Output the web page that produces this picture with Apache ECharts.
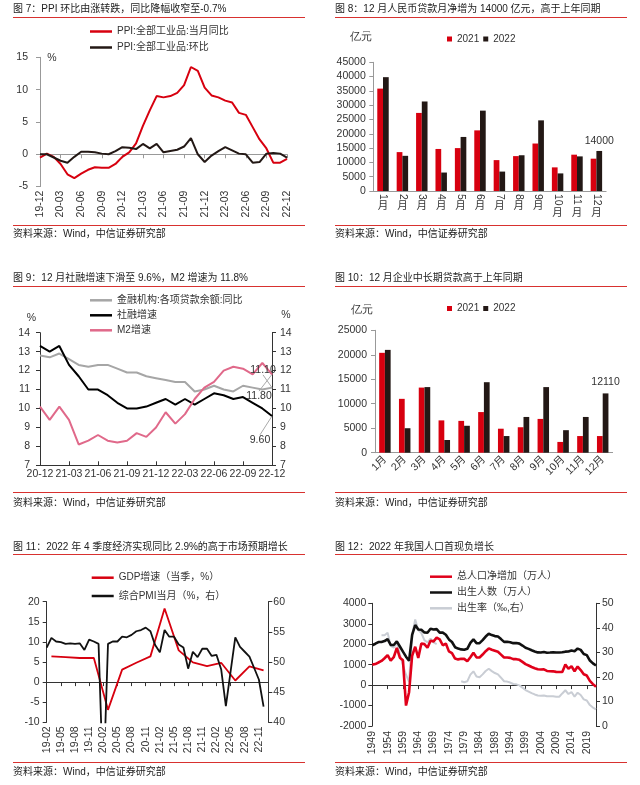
<!DOCTYPE html>
<html><head><meta charset="utf-8">
<script src="https://cdn.jsdelivr.net/npm/echarts@6/dist/echarts.min.js"></script>
<style>html,body{margin:0;padding:0;background:#fff}#c{width:640px;height:785px}</style>
</head><body><div id="c"></div>
<script>
// ---------- DATA ----------
function monthCats(y, m, n) { const out = []; for (let i = 0; i < n; i++) { const mm = (m - 1 + i) % 12 + 1; const yy = y + Math.floor((m - 1 + i) / 12); out.push(String(yy).slice(2) + '-' + (mm < 10 ? '0' : '') + mm); } return out; }
// 图7
const ppiCats = monthCats(2019, 12, 37);
const ppiYoy = [-0.5, 0.1, -0.4, -1.5, -3.1, -3.7, -3.0, -2.4, -2.0, -2.1, -2.1, -1.5, -0.4, 0.3, 1.7, 4.4, 6.8, 9.0, 8.8, 9.0, 9.5, 10.7, 13.5, 12.9, 10.3, 9.1, 8.8, 8.3, 8.0, 6.4, 6.1, 4.2, 2.3, 0.9, -1.3, -1.3, -0.7];
const ppiMom = [0.0, 0.0, -0.5, -1.0, -1.3, -0.4, 0.4, 0.4, 0.3, 0.1, 0.0, 0.5, 1.1, 1.0, 0.8, 1.6, 0.9, 1.6, 0.3, 0.5, 0.7, 1.2, 2.5, 0.0, -1.2, -0.2, 0.5, 1.1, 0.6, 0.1, 0.0, -1.3, -1.2, 0.1, 0.2, 0.1, -0.5];
// 图8
const barMonths = ['1月', '2月', '3月', '4月', '5月', '6月', '7月', '8月', '9月', '10月', '11月', '12月'];
const loan2021 = [35800, 13600, 27300, 14700, 15000, 21200, 10800, 12200, 16600, 8262, 12700, 11300];
const loan2022 = [39800, 12300, 31300, 6454, 18900, 28100, 6790, 12500, 24700, 6152, 12100, 14000];
// 图9
const sfCats = monthCats(2020, 12, 25);
const loanYoy = [12.8, 12.7, 12.9, 12.6, 12.3, 12.2, 12.3, 12.3, 12.1, 11.9, 11.9, 11.7, 11.6, 11.5, 11.4, 11.4, 10.9, 11.0, 11.2, 11.0, 10.9, 11.2, 11.1, 11.0, 11.1];
const tsfYoy = [13.3, 13.0, 13.3, 12.3, 11.7, 11.0, 11.0, 10.7, 10.3, 10.0, 10.0, 10.1, 10.3, 10.5, 10.2, 10.5, 10.2, 10.5, 10.8, 10.7, 10.5, 10.6, 10.3, 10.0, 9.6];
const m2Yoy = [10.1, 9.4, 10.1, 9.4, 8.1, 8.3, 8.6, 8.3, 8.2, 8.3, 8.7, 8.5, 9.0, 9.8, 9.2, 9.7, 10.5, 11.1, 11.4, 12.0, 12.2, 12.1, 11.8, 12.4, 11.8];
// 图10
const mlt2021 = [20400, 11000, 13300, 6600, 6500, 8300, 4900, 5200, 6900, 2200, 3400, 3400];
const mlt2022 = [21000, 5000, 13400, 2600, 5500, 14400, 3400, 7300, 13400, 4600, 7300, 12110];
// 图11
const gdpCats = monthCats(2019, 2, 48);
const gdpQuarterly = [6.4, 6.2, 6.0, 6.0, -6.9, 3.1, 4.8, 6.4, 18.3, 7.9, 4.9, 4.0, 4.8, 0.4, 3.9, 2.9];
const gdpQuarterMonths = ['19-03', '19-06', '19-09', '19-12', '20-03', '20-06', '20-09', '20-12', '21-03', '21-06', '21-09', '21-12', '22-03', '22-06', '22-09', '22-12'];
const pmiComposite = [52.4, 54.0, 53.4, 53.3, 53.0, 53.1, 53.0, 53.1, 52.0, 53.7, 53.4,
  53.0, 28.9, 53.0, 53.4, 53.4, 54.2, 54.1, 54.5, 55.1, 55.3, 55.7, 55.1,
  52.8, 51.6, 55.3, 54.2, 54.2, 52.9, 52.4, 48.9, 51.7, 50.8, 52.2, 52.2,
  51.0, 51.2, 48.8, 42.7, 48.4, 54.1, 52.5, 51.7, 50.9, 49.0, 47.1, 42.6, null];
// 图12
const popYears = []; for (let y = 1949; y <= 2022; y++) popYears.push(String(y));
const popNetIncrease = [1000, 1029, 1104, 1182, 1314, 1470, 1199, 1363, 1825, 1341, 1213, -1000, -348, 1437, 1876, 1327, 2039, 2004, 1826, 2166, 2137, 2321, 2237, 1948, 2034, 1648, 1561, 1297, 1257, 1285, 1283, 1163, 1367, 1582, 1354, 1349, 1494, 1656, 1793, 1726, 1678, 1629, 1490, 1348, 1346, 1333, 1271, 1268, 1237, 1135, 1025, 957, 884, 826, 774, 761, 768, 692, 681, 673, 648, 641, 644, 1006, 804, 920, 680, 906, 737, 530, 467, 204, 48, -85];
const births = [1950, 2023, 2107, 2105, 2151, 2245, 1965, 1961, 2138, 1889, 1635, 1389, 1189, 2451, 2934, 2721, 2704, 2577, 2563, 2757, 2715, 2736, 2567, 2566, 2463, 2235, 2109, 1853, 1786, 1745, 1727, 1776, 2064, 2237, 2052, 2050, 2196, 2374, 2508, 2445, 2396, 2374, 2250, 2113, 2120, 2098, 2052, 2057, 2028, 1934, 1827, 1771, 1702, 1647, 1599, 1593, 1617, 1585, 1595, 1608, 1591, 1592, 1604, 1635, 1640, 1687, 1655, 1786, 1723, 1523, 1465, 1202, 1062, 956];
const birthRate = [null, null, null, 37.0, 37.0, 38.0, 32.6, 31.9, 34.0, 29.2, 24.8, 20.9, 18.0, 37.0, 43.4, 39.1, 37.9, 35.0, 34.0, 35.6, 34.1, 33.4,
  null, null, null, null, null, null, null,
  18.25, 17.82, 18.21, 20.91, 22.28, 20.19, 19.90, 21.04, 22.43, 23.33, 22.37, 21.58, 21.06, 19.68, 18.24, 18.09, 17.70, 17.12, 16.98, 16.57, 15.64, 14.64, 14.03, 13.38, 12.86, 12.41, 12.29, 12.40, 12.09, 12.10, 12.14, 11.95, 11.90, 13.27, 14.57, 13.03, 13.83, 11.99, 13.57, 12.64, 10.86, 10.41, 8.52, 7.52, 6.77];

// texts
const titles = [
  '图 7：PPI 环比由涨转跌，同比降幅收窄至-0.7%',
  '图 8：12 月人民币贷款月净增为 14000 亿元，高于上年同期',
  '图 9：12 月社融增速下滑至 9.6%，M2 增速为 11.8%',
  '图 10：12 月企业中长期贷款高于上年同期',
  '图 11：2022 年 4 季度经济实现同比 2.9%的高于市场预期增长',
  '图 12：2022 年我国人口首现负增长'
];
const sourceText = '资料来源：Wind，中信证券研究部';

// ---------- STYLE ----------
const FONT = '"Liberation Sans", Arial, "Noto Sans CJK SC", sans-serif';
const TXT = '#333';
const RED = '#d7000f', BLK = '#231815';
const FS = 10.5;

function yAx(grid, min, max, interval, pos, margin, lc) {
  return { gridIndex: grid, type: 'value', min, max, interval, position: pos,
    splitLine: { show: false },
    axisLine: { show: true, lineStyle: { color: lc, width: 1 } },
    axisTick: { show: true, length: 4, lineStyle: { color: lc } },
    axisLabel: { margin, fontSize: FS, color: TXT, fontFamily: FONT, formatter: v => String(v) } };
}
function gridBox(l, t, w, h) { return { left: l, top: t, width: w, height: h, containLabel: false, outerBoundsMode: 'none' }; }

// GDP monthly placement (quarter-end months only, nulls elsewhere)
const gdpMonthly = gdpCats.map(c => { const k = gdpQuarterMonths.indexOf(c); return k >= 0 ? gdpQuarterly[k] : null; });

function endLabel(arr) {
  return arr.map((v, i) => i === arr.length - 1 ? { value: v, symbol: 'circle', symbolSize: 1,
    label: { show: true, position: 'inside', formatter: p => Number(p.value).toFixed(2), fontSize: FS, color: TXT, fontFamily: FONT } } : v);
}

const titleComps = [];
const colX = [13, 335];
const titleTops = [4, 273, 542.5];
const srcTops = [229, 498, 767];
titles.forEach((t, i) => {
  titleComps.push({ text: t, left: colX[i % 2], top: titleTops[Math.floor(i / 2)], padding: 0,
    textStyle: { fontSize: 10, fontWeight: 'normal', color: '#222', fontFamily: FONT } });
  titleComps.push({ text: sourceText, left: colX[i % 2], top: srcTops[Math.floor(i / 2)], padding: 0,
    textStyle: { fontSize: 10, fontWeight: 'normal', color: '#222', fontFamily: FONT } });
});

const ruleYs = [17.5, 225.5, 286.5, 492.5, 554.5, 762.5];
const graphics = [];
ruleYs.forEach(y => {
  graphics.push({ type: 'line', shape: { x1: 13, y1: y, x2: 305, y2: y }, style: { stroke: '#d8312f', lineWidth: 1 } });
  graphics.push({ type: 'line', shape: { x1: 335, y1: y, x2: 627, y2: y }, style: { stroke: '#d8312f', lineWidth: 1 } });
});
const unitText = (txt, x, y) => ({ type: 'text', x, y, style: { text: txt, fontSize: FS, fill: TXT, font: FS + 'px ' + FONT, textAlign: 'center', textVerticalAlign: 'middle' } });
graphics.push(unitText('%', 52, 58));
graphics.push(unitText('%', 31.5, 318.5));
graphics.push(unitText('%', 286, 315.5));
graphics.push(unitText('亿元', 361, 37));
graphics.push(unitText('亿元', 362, 310));

const lineLeg = (left, top, gap, names) => ({ left, top, orient: 'vertical', itemGap: gap, padding: 0,
  icon: 'rect', itemWidth: 22, itemHeight: 2.5, data: names,
  textStyle: { fontSize: 10, color: TXT, fontFamily: FONT, lineHeight: 12 } });
const barLeg = (left, top) => ({ left, top, orient: 'horizontal', itemGap: 4, padding: 0,
  icon: 'rect', itemWidth: 5, itemHeight: 5, data: ['2021', '2022'],
  textStyle: { fontSize: 10, color: TXT, fontFamily: FONT, lineHeight: 12 } });

// "月" labels below the rotated digits: one axis for one-digit months, one for two-digit months
const monthCharAxis = (twoDigit, margin) => ({ gridIndex: 1, type: 'category', data: barMonths, position: 'bottom',
  axisLine: { show: false, onZero: false }, axisTick: { show: false },
  axisLabel: { interval: 0, margin, fontSize: FS, color: TXT, fontFamily: FONT,
    formatter: v => ((v.length > 2) === twoDigit ? '月' : '') } });

const option = {
  animation: false,
  backgroundColor: '#fff',
  textStyle: { fontFamily: FONT },
  title: titleComps,
  graphic: graphics,
  legend: [
    lineLeg(90, 25.5, 4, ['PPI:全部工业品:当月同比', 'PPI:全部工业品:环比']),
    barLeg(447, 33),
    lineLeg(90, 294.3, 3, ['金融机构:各项贷款余额:同比', '社融增速', 'M2增速']),
    barLeg(447, 302.5),
    lineLeg(91.7, 571.7, 6.3, ['GDP增速（当季，%）', '综合PMI当月（%，右）']),
    lineLeg(430, 570.7, 3.8, ['总人口净增加（万人）', '出生人数（万人）', '出生率（‰,右）'])
  ],
  grid: [
    gridBox(40, 57.3, 247, 129.3),
    gridBox(373.3, 62.3, 232.8, 128.7),
    gridBox(40, 332.7, 232, 132.6),
    gridBox(375, 330.3, 237.6, 122.4),
    gridBox(46.7, 601.7, 221.6, 120.6),
    gridBox(372.3, 603.3, 223.7, 122.7)
  ],
  xAxis: [
    // 0,1: 图7
    { gridIndex: 0, type: 'category', data: ppiCats, boundaryGap: false,
      axisLine: { onZero: true, lineStyle: { color: '#999' } }, axisTick: { show: true, interval: 2, length: 4, lineStyle: { color: '#999' } },
      axisLabel: { show: false } },
    { gridIndex: 0, type: 'category', data: ppiCats, boundaryGap: false, position: 'bottom',
      axisLine: { show: false, onZero: false }, axisTick: { show: false },
      axisLabel: { interval: 2, rotate: 90, margin: 4, fontSize: FS, color: TXT, fontFamily: FONT } },
    // 2,3,4: 图8
    { gridIndex: 1, type: 'category', data: barMonths,
      axisLine: { lineStyle: { color: '#999' } }, axisTick: { length: 4, lineStyle: { color: '#999' } },
      axisLabel: { interval: 0, rotate: -90, margin: 3, formatter: v => v.replace('月', ''), fontSize: FS, color: TXT, fontFamily: FONT } },
    monthCharAxis(false, 10),
    monthCharAxis(true, 16.5),
    // 5: 图9
    { gridIndex: 2, type: 'category', data: sfCats, boundaryGap: false,
      axisLine: { onZero: false, lineStyle: { color: '#333' } }, axisTick: { show: true, inside: true, interval: 2, length: 4, lineStyle: { color: '#333' } },
      axisLabel: { interval: 2, margin: 4, fontSize: FS, color: TXT, fontFamily: FONT } },
    // 6: 图10
    { gridIndex: 3, type: 'category', data: barMonths,
      axisLine: { lineStyle: { color: '#999' } }, axisTick: { length: 4, lineStyle: { color: '#999' } },
      axisLabel: { interval: 0, rotate: 45, margin: 5, fontSize: FS, color: TXT, fontFamily: FONT } },
    // 7,8: 图11
    { gridIndex: 4, type: 'category', data: gdpCats, boundaryGap: false,
      axisLine: { onZero: true, lineStyle: { color: '#333' } }, axisTick: { show: true, interval: 2, length: 4, lineStyle: { color: '#333' } },
      axisLabel: { show: false } },
    { gridIndex: 4, type: 'category', data: gdpCats, boundaryGap: false, position: 'bottom',
      axisLine: { show: false, onZero: false }, axisTick: { show: false },
      axisLabel: { interval: 2, rotate: 90, margin: 4, fontSize: FS, color: TXT, fontFamily: FONT } },
    // 9,10: 图12
    { gridIndex: 5, type: 'category', data: popYears, boundaryGap: false,
      axisLine: { onZero: true, lineStyle: { color: '#333' } }, axisTick: { show: true, interval: 4, length: 4, lineStyle: { color: '#333' } },
      axisLabel: { show: false } },
    { gridIndex: 5, type: 'category', data: popYears, boundaryGap: false, position: 'bottom',
      axisLine: { show: false, onZero: false }, axisTick: { show: false },
      axisLabel: { interval: 4, rotate: 90, margin: 5, fontSize: FS, color: TXT, fontFamily: FONT } }
  ],
  yAxis: [
    yAx(0, -5, 15, 5, 'left', 12, '#999'),
    yAx(1, 0, 45000, 5000, 'left', 7.5, '#999'),
    yAx(2, 7, 14, 1, 'left', 10, '#333'),
    yAx(2, 7, 14, 1, 'right', 8, '#333'),
    yAx(3, 0, 25000, 5000, 'left', 8, '#999'),
    yAx(4, -10, 20, 5, 'left', 7, '#333'),
    yAx(4, 40, 60, 5, 'right', 5, '#333'),
    yAx(5, -2000, 4000, 1000, 'left', 6, '#333'),
    yAx(5, 0, 50, 10, 'right', 6, '#333')
  ],
  series: [
    // 图7
    { name: 'PPI:全部工业品:当月同比', type: 'line', xAxisIndex: 0, yAxisIndex: 0, data: ppiYoy, color: RED, showSymbol: false, lineStyle: { width: 2, color: RED } },
    { name: 'PPI:全部工业品:环比', type: 'line', xAxisIndex: 0, yAxisIndex: 0, data: ppiMom, color: BLK, showSymbol: false, lineStyle: { width: 2, color: BLK } },
    // 图8
    { name: '2021', type: 'bar', xAxisIndex: 2, yAxisIndex: 1, data: loan2021, color: RED, barGap: '0%', barCategoryGap: '41%' },
    { name: '2022', type: 'bar', xAxisIndex: 2, yAxisIndex: 1, color: BLK, barGap: '0%', barCategoryGap: '41%',
      data: loan2022.map((v, i) => i === loan2022.length - 1 ? { value: v, label: { show: true, position: 'top', distance: 5, fontSize: FS, color: TXT, fontFamily: FONT } } : v) },
    // 图9
    { name: '金融机构:各项贷款余额:同比', type: 'line', xAxisIndex: 5, yAxisIndex: 2, color: '#a6a6a6', symbol: 'none', showAllSymbol: true,
      lineStyle: { width: 2, color: '#a6a6a6' }, data: endLabel(loanYoy), labelLayout: { dx: -9, dy: -18 }, labelLine: { show: true, lineStyle: { color: '#aaa', width: 1 } } },
    { name: '社融增速', type: 'line', xAxisIndex: 5, yAxisIndex: 2, color: '#000', symbol: 'none', showAllSymbol: true,
      lineStyle: { width: 2, color: '#000' }, data: endLabel(tsfYoy), labelLayout: { dx: -12, dy: 24 }, labelLine: { show: true, lineStyle: { color: '#aaa', width: 1 } } },
    { name: 'M2增速', type: 'line', xAxisIndex: 5, yAxisIndex: 2, color: '#e0698a', symbol: 'none', showAllSymbol: true,
      lineStyle: { width: 2, color: '#e0698a' }, data: endLabel(m2Yoy), labelLayout: { dx: -13, dy: 22 }, labelLine: { show: true, lineStyle: { color: '#aaa', width: 1 } } },
    // 图10
    { name: '2021', type: 'bar', xAxisIndex: 6, yAxisIndex: 4, data: mlt2021, color: RED, barGap: '0%', barCategoryGap: '42%' },
    { name: '2022', type: 'bar', xAxisIndex: 6, yAxisIndex: 4, color: BLK, barGap: '0%', barCategoryGap: '42%',
      data: mlt2022.map((v, i) => i === mlt2022.length - 1 ? { value: v, label: { show: true, position: 'top', distance: 6, fontSize: FS, color: TXT, fontFamily: FONT } } : v) },
    // 图11
    { name: 'GDP增速（当季，%）', type: 'line', xAxisIndex: 7, yAxisIndex: 5, data: gdpMonthly, connectNulls: true, color: RED, showSymbol: false, lineStyle: { width: 1.8, color: RED } },
    { name: '综合PMI当月（%，右）', type: 'line', xAxisIndex: 7, yAxisIndex: 6, data: pmiComposite, color: '#111', showSymbol: false, lineStyle: { width: 1.8, color: '#111' } },
    // 图12
    { name: '出生率（‰,右）', type: 'line', xAxisIndex: 9, yAxisIndex: 8, data: birthRate, color: '#c9cdd4', showSymbol: false, lineStyle: { width: 2, color: '#c9cdd4' } },
    { name: '出生人数（万人）', type: 'line', xAxisIndex: 9, yAxisIndex: 7, data: births, color: '#111', showSymbol: false, lineStyle: { width: 2.6, color: '#111' } },
    { name: '总人口净增加（万人）', type: 'line', xAxisIndex: 9, yAxisIndex: 7, data: popNetIncrease, color: '#e0001a', showSymbol: false, lineStyle: { width: 2.6, color: '#e0001a' } }
  ]
};
const chart = echarts.init(document.getElementById('c'), null, { renderer: 'canvas' });
chart.setOption(option);
</script></body></html>
